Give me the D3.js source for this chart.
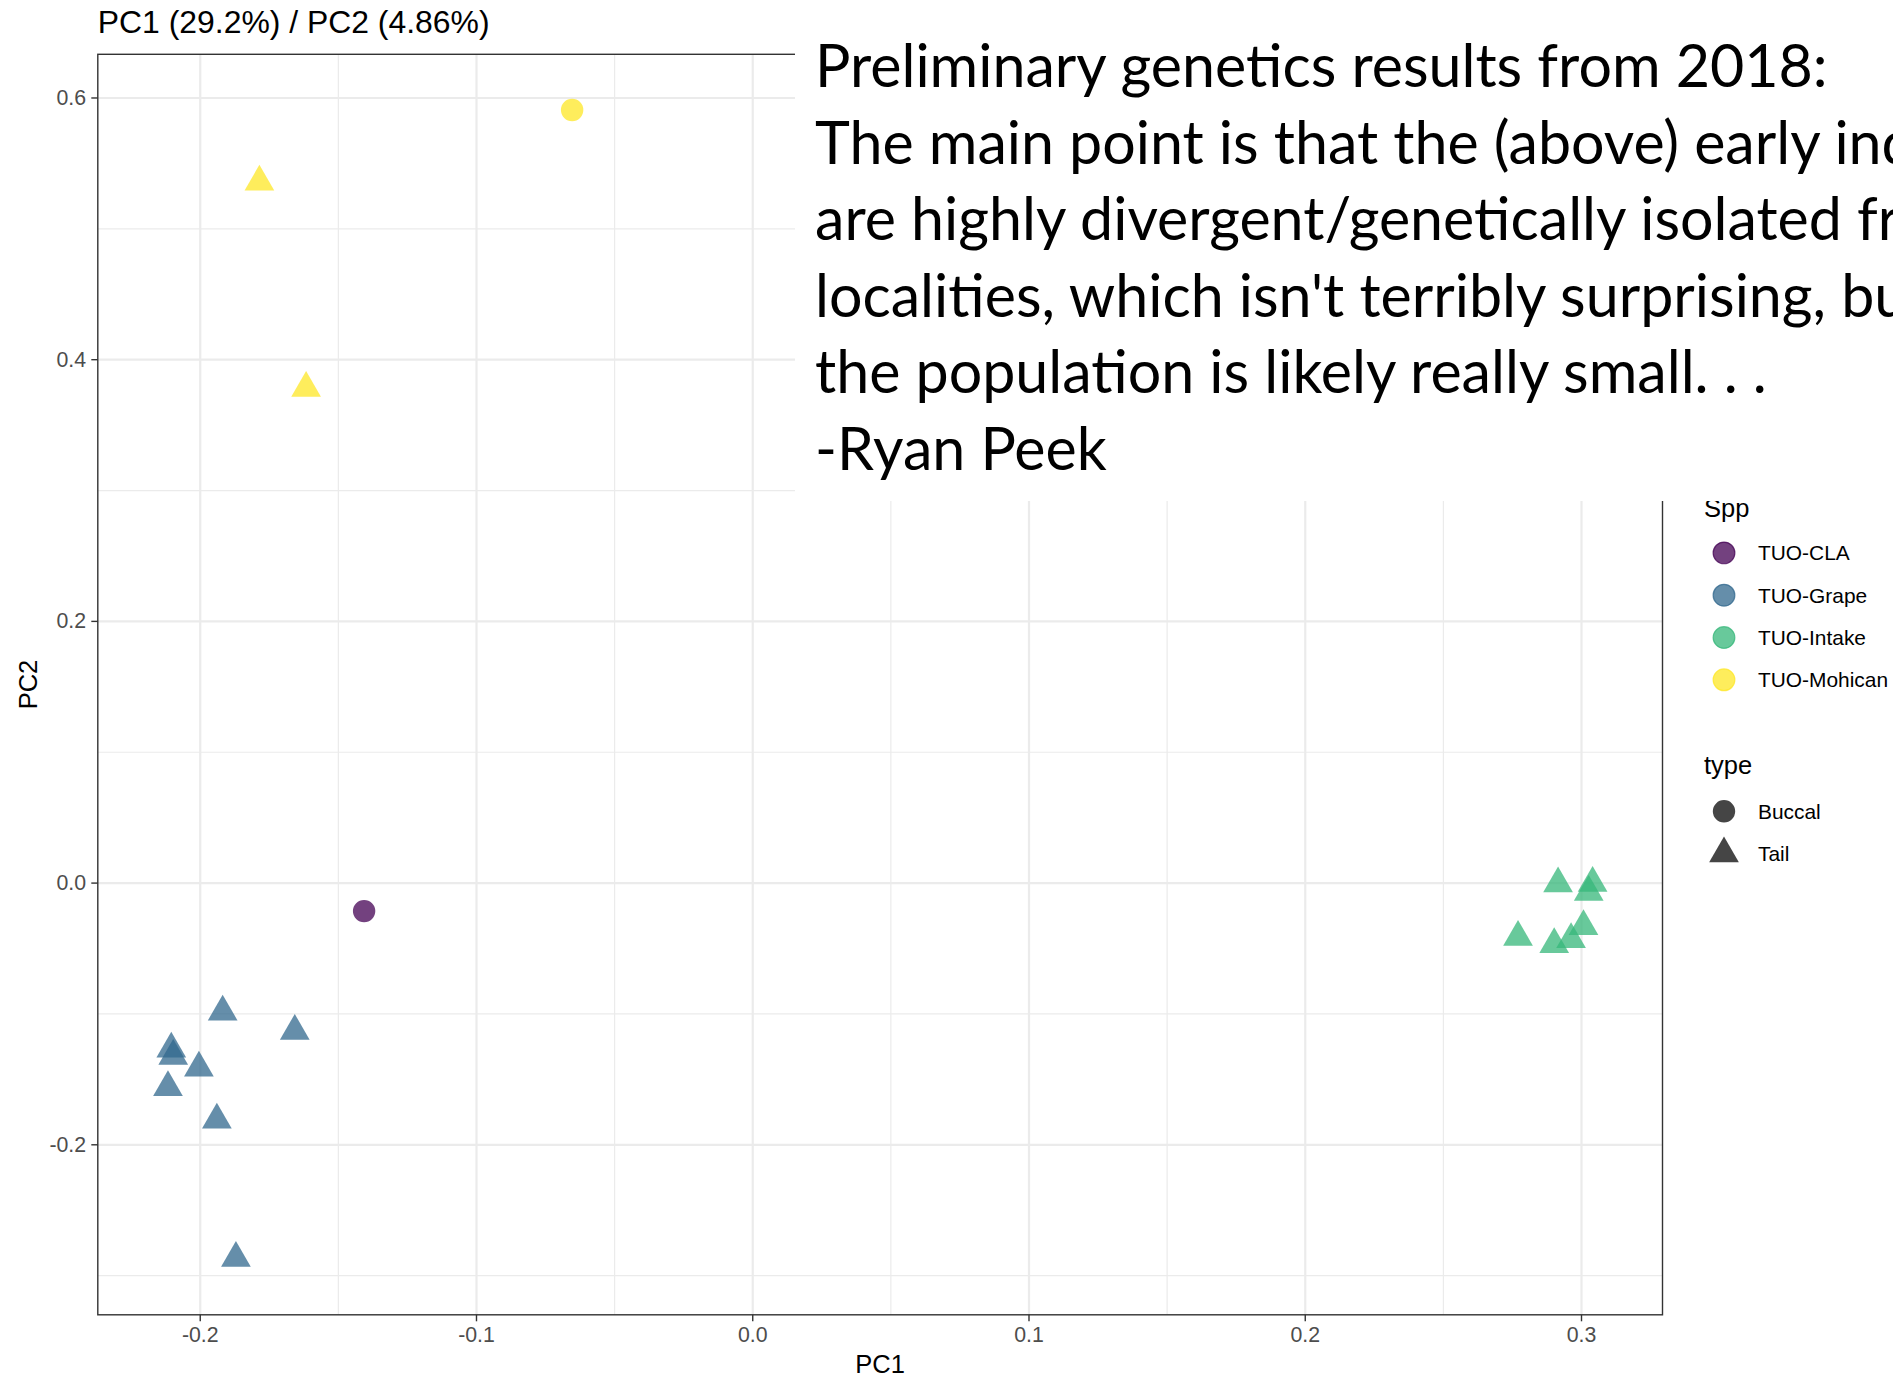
<!DOCTYPE html>
<html>
<head>
<meta charset="utf-8">
<script src="https://cdn.jsdelivr.net/npm/d3@7"></script>
<style>
  body { margin: 0; background: #ffffff; }
  #chart text { font-family: "Liberation Sans", Arial, sans-serif; }
</style>
</head>
<body>
<div id="chart"></div>
<script>
// data
var species = ["TUO-CLA", "TUO-Grape", "TUO-Intake", "TUO-Mohican"]
var types = ["Buccal", "Tail"]

var sampleSpp = [
  "TUO-Mohican", "TUO-Mohican", "TUO-Mohican", "TUO-CLA",
  "TUO-Grape", "TUO-Grape", "TUO-Grape", "TUO-Grape", "TUO-Grape", "TUO-Grape", "TUO-Grape", "TUO-Grape",
  "TUO-Intake", "TUO-Intake", "TUO-Intake", "TUO-Intake", "TUO-Intake", "TUO-Intake", "TUO-Intake"
]
var sampleType = [
  "Buccal", "Tail", "Tail", "Buccal",
  "Tail", "Tail", "Tail", "Tail", "Tail", "Tail", "Tail", "Tail",
  "Tail", "Tail", "Tail", "Tail", "Tail", "Tail", "Tail"
]
var pc1 = [
  -0.0652, -0.1784, -0.1615, -0.1405,
  -0.1917, -0.1656, -0.2103, -0.2096, -0.2003, -0.2115, -0.1938, -0.1869,
  0.2917, 0.3042, 0.3028, 0.3009, 0.2772, 0.2964, 0.2903
]
var pc2 = [
  0.5904, 0.5355, 0.3779, -0.0218,
  -0.0988, -0.1135, -0.1271, -0.1327, -0.1416, -0.1566, -0.1813, -0.2871,
  -0.0009, -0.0004, -0.0073, -0.0335, -0.0417, -0.0434, -0.0473
]

var xTicks = [-0.2, -0.1, 0.0, 0.1, 0.2, 0.3]
var xMinor = [-0.15, -0.05, 0.05, 0.15, 0.25]
var yTicks = [-0.2, 0.0, 0.2, 0.4, 0.6]
var yMinor = [-0.3, -0.1, 0.1, 0.3, 0.5]

var title = "PC1 (29.2%) / PC2 (4.86%)"
var noteLines = [
  "Preliminary genetics results from 2018:",
  "The main point is that the (above) early individuals",
  "are highly divergent/genetically isolated from other",
  "localities, which isn't terribly surprising, but",
  "the population is likely really small. . .",
  "-Ryan Peek"
]

var samples = pc1.map((d, i) => ({ pc1: d, pc2: pc2[i], spp: sampleSpp[i], type: sampleType[i] }))

var width = 1893
var height = 1377
var margin = { top: 54.3, right: 230.5, bottom: 62.2, left: 97.8 }
var innerW = width - margin.left - margin.right
var innerH = height - margin.top - margin.bottom

var svg = d3.select("#chart")
  .append("svg")
  .attr("width", width)
  .attr("height", height)

// scales
var xScale = d3.scaleLinear()
  .domain([-0.2369, 0.3295])
  .range([margin.left, width - margin.right])

var yScale = d3.scaleLinear()
  .domain([-0.3303, 0.633])
  .range([height - margin.bottom, margin.top])

var colour = d3.scaleOrdinal()
  .domain(species)
  .range(["#440154", "#31688E", "#35B779", "#FDE725"])

var shape = d3.scaleOrdinal()
  .domain(types)
  .range([d3.symbolCircle, d3.symbolTriangle])

var shapeSize = d3.scaleOrdinal()
  .domain(types)
  .range([394, 382])

var symbol = d3.symbol()
  .type(d => shape(d.type))
  .size(d => shapeSize(d.type))

var fmt = d => d.toFixed(1)

// minor grid
svg.append("g")
  .attr("class", "grid-minor")
  .attr("transform", `translate(0,${margin.top})`)
  .call(d3.axisBottom(xScale).tickValues(xMinor).tickSize(innerH).tickFormat(""))
svg.append("g")
  .attr("class", "grid-minor")
  .attr("transform", `translate(${margin.left},0)`)
  .call(d3.axisRight(yScale).tickValues(yMinor).tickSize(innerW).tickFormat(""))
svg.selectAll(".grid-minor line").attr("stroke", "#EBEBEB").attr("stroke-width", 1.2)

// major grid
svg.append("g")
  .attr("class", "grid-major")
  .attr("transform", `translate(0,${margin.top})`)
  .call(d3.axisBottom(xScale).tickValues(xTicks).tickSize(innerH).tickFormat(""))
svg.append("g")
  .attr("class", "grid-major")
  .attr("transform", `translate(${margin.left},0)`)
  .call(d3.axisRight(yScale).tickValues(yTicks).tickSize(innerW).tickFormat(""))
svg.selectAll(".grid-major line").attr("stroke", "#EBEBEB").attr("stroke-width", 2.2)
svg.selectAll(".grid-minor .domain, .grid-major .domain").remove()

// points
svg.append("g")
  .attr("class", "points")
  .selectAll("path")
  .data(samples)
  .join("path")
  .attr("transform", d => `translate(${xScale(d.pc1)},${yScale(d.pc2)})`)
  .attr("d", symbol)
  .attr("fill", d => colour(d.spp))
  .attr("fill-opacity", 0.75)

// panel border
svg.append("rect")
  .attr("x", margin.left)
  .attr("y", margin.top)
  .attr("width", innerW)
  .attr("height", innerH)
  .attr("fill", "none")
  .attr("stroke", "#333333")
  .attr("stroke-width", 1.4)

// axes
var xAxis = svg.append("g")
  .attr("class", "x-axis")
  .attr("transform", `translate(0,${height - margin.bottom})`)
  .call(d3.axisBottom(xScale).tickValues(xTicks).tickSize(6.5).tickSizeOuter(0).tickPadding(5.2).tickFormat(fmt))

var yAxis = svg.append("g")
  .attr("class", "y-axis")
  .attr("transform", `translate(${margin.left},0)`)
  .call(d3.axisLeft(yScale).tickValues(yTicks).tickSize(6.5).tickSizeOuter(0).tickPadding(5.2).tickFormat(fmt))

svg.selectAll(".x-axis .domain, .y-axis .domain").remove()
svg.selectAll(".x-axis line, .y-axis line").attr("stroke", "#333333").attr("stroke-width", 1.4)
svg.selectAll(".x-axis text, .y-axis text")
  .style("font-size", "21.3px")
  .attr("fill", "#4D4D4D")

// titles
svg.append("text")
  .attr("x", margin.left)
  .attr("y", 32.5)
  .style("font-size", "31.9px")
  .attr("fill", "#000000")
  .text(title)

svg.append("text")
  .attr("x", margin.left + innerW / 2)
  .attr("y", 1373)
  .attr("text-anchor", "middle")
  .style("font-size", "25.5px")
  .text("PC1")

svg.append("text")
  .attr("transform", `translate(37,${margin.top + innerH / 2}) rotate(-90)`)
  .attr("text-anchor", "middle")
  .style("font-size", "25.5px")
  .text("PC2")

// legends
var legend = svg.append("g").attr("class", "legend")

legend.append("text")
  .attr("x", 1704)
  .attr("y", 517)
  .style("font-size", "25.5px")
  .text("Spp")

var sppKey = legend.selectAll(".spp-key")
  .data(species)
  .join("g")
  .attr("class", "spp-key")
  .attr("transform", (d, i) => `translate(1724,${552.9 + i * 42.3})`)

sppKey.append("path")
  .attr("d", d3.symbol().type(d3.symbolCircle).size(370))
  .attr("fill", d => colour(d))
  .attr("fill-opacity", 0.75)
  .attr("stroke", d => colour(d))
  .attr("stroke-opacity", 0.75)
  .attr("stroke-width", 1.2)

sppKey.append("text")
  .attr("x", 34)
  .attr("dy", "0.35em")
  .style("font-size", "20.9px")
  .text(d => d)

legend.append("text")
  .attr("x", 1704)
  .attr("y", 774)
  .style("font-size", "25.5px")
  .text("type")

var typeKey = legend.selectAll(".type-key")
  .data(types)
  .join("g")
  .attr("class", "type-key")
  .attr("transform", (d, i) => `translate(1724,${811.3 + i * 42.3})`)

typeKey.append("path")
  .attr("d", d => d3.symbol().type(shape(d)).size(shapeSize(d))())
  .attr("fill", "#000000")
  .attr("fill-opacity", 0.73)

typeKey.append("text")
  .attr("x", 34)
  .attr("dy", "0.35em")
  .style("font-size", "20.9px")
  .text(d => d)

// pasted note box covering the top right
var note = svg.append("g").attr("class", "note")

note.append("rect")
  .attr("x", 795)
  .attr("y", 0)
  .attr("width", width - 795)
  .attr("height", 501)
  .attr("fill", "#ffffff")

var noteText = note.selectAll("text")
  .data(noteLines)
  .join("text")
  .attr("x", 815)
  .attr("y", (d, i) => 87 + i * 76.6)
  .style("font-family", "Lato, 'Open Sans', sans-serif")
  .style("font-size", "60px")
  .attr("fill", "#000000")
  .text(d => d)

// size the note so the first line spans the same width as in the picture
var firstW = noteText.node().getComputedTextLength()
noteText.style("font-size", (60 * 1013 / firstW) + "px")
</script>
</body>
</html>
